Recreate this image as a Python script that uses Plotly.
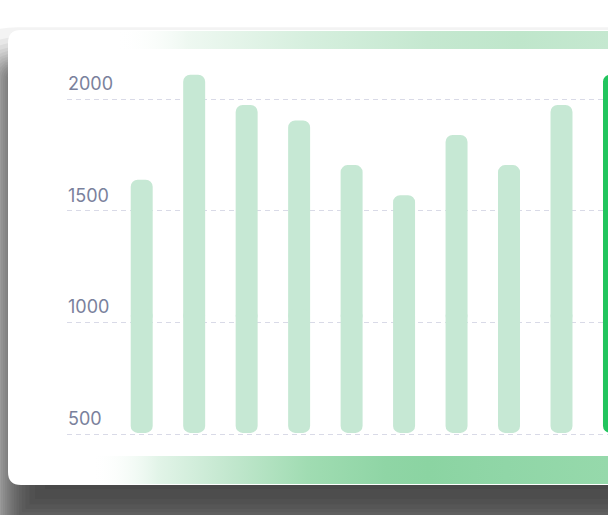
import plotly.graph_objects as go
from statistics import NormalDist

W, H = 608, 515

# data
months = ["Jan", "Feb", "Mar", "Apr", "May", "Jun", "Jul", "Aug", "Sep", "Oct"]
sales = [1640, 2110, 1975, 1905, 1705, 1570, 1840, 1705, 1975, 2110]
highlight = "Oct"
y_ticks = [500, 1000, 1500, 2000]

BAR_FLOOR = 505
SOFT_GREEN = "#c6e8d4"
STRONG_GREEN = "#22c55e"


def px(x):
    return x / W


def py(y):
    return 1 - y / H


def round_rect(x0, y0, x1, y1, r):
    # rounded rectangle in screen pixels -> paper path
    return (
        f"M {px(x0 + r)},{py(y0)} L {px(x1 - r)},{py(y0)} "
        f"Q {px(x1)},{py(y0)} {px(x1)},{py(y0 + r)} "
        f"L {px(x1)},{py(y1 - r)} Q {px(x1)},{py(y1)} {px(x1 - r)},{py(y1)} "
        f"L {px(x0 + r)},{py(y1)} Q {px(x0)},{py(y1)} {px(x0)},{py(y1 - r)} "
        f"L {px(x0)},{py(y0 + r)} Q {px(x0)},{py(y0)} {px(x0 + r)},{py(y0)} Z"
    )


shapes = []

# soft drop shadow built from stacked translucent layers
K = 24
sigma = 20
alpha = 1 - (1 - 0.68) ** (1 / K)
for k in range(K):
    e = sigma * NormalDist().inv_cdf((k + 0.5) / K)
    shapes.append(dict(
        type="path", xref="paper", yref="paper", layer="below",
        path=round_rect(4 - e, 68 - e, 700 + e, 530 + e, max(13 + e, 1)),
        fillcolor=f"rgba(0,0,0,{alpha:.4f})", line=dict(width=0),
    ))

# white card
shapes.append(dict(
    type="path", xref="paper", yref="paper", layer="below",
    path=round_rect(8, 30, 700, 485, 13),
    fillcolor="white", line=dict(width=0),
))

fig = go.Figure()

# gradient bands on the card (decoration axes in screen pixels)
fig.add_trace(go.Scatter(
    x=[8, 608, 608, 8, 8], y=[31, 31, 49, 49, 31],
    xaxis="x", yaxis="y", mode="lines", line=dict(width=0),
    fill="toself", hoverinfo="skip", showlegend=False,
    fillgradient=dict(type="horizontal", colorscale=[
        [0.0, "rgba(255,255,255,0)"],
        [0.18, "rgba(255,255,255,0)"],
        [0.3, "#eef8f1"],
        [0.5, "#d6efde"],
        [0.7, "#c5e8d0"],
        [0.85, "#bfe6cb"],
        [1.0, "#c5e8d0"],
    ]),
))
fig.add_trace(go.Scatter(
    x=[8, 608, 608, 8, 8], y=[456, 456, 484, 484, 456],
    xaxis="x", yaxis="y", mode="lines", line=dict(width=0),
    fill="toself", hoverinfo="skip", showlegend=False,
    fillgradient=dict(type="horizontal", colorscale=[
        [0.0, "rgba(255,255,255,0)"],
        [0.14, "rgba(255,255,255,0)"],
        [0.25, "#e2f4e8"],
        [0.37, "#c2e7ce"],
        [0.5, "#a0dcb2"],
        [0.63, "#8fd5a5"],
        [0.7, "#8bd4a2"],
        [0.83, "#90d6a7"],
        [1.0, "#96d9ab"],
    ]),
))

# bars: two halves so both ends get rounded
idx = list(range(len(months)))
colors = [STRONG_GREEN if m == highlight else SOFT_GREEN for m in months]
mid = 1000
fig.add_trace(go.Bar(
    x=idx, y=[v - mid for v in sales], base=mid,
    xaxis="x2", yaxis="y2", width=0.419,
    marker=dict(color=colors, cornerradius=7, line=dict(width=0)),
    hoverinfo="skip", showlegend=False,
))
fig.add_trace(go.Bar(
    x=idx, y=[BAR_FLOOR - (mid + 60)] * len(idx), base=mid + 60,
    xaxis="x2", yaxis="y2", width=0.419,
    marker=dict(color=colors, cornerradius=7, line=dict(width=0)),
    hoverinfo="skip", showlegend=False,
))

# chart placement in screen pixels
plot_left = 67
step = 52.475
first_center = 141.7
x0 = -(first_center - plot_left) / step
x1 = x0 + (W - plot_left) / step

y_lo, y_hi = 480, 2150
unit = (434.0 - 99.3) / 1500
y_bottom_px = 434.0 + (500 - y_lo) * unit
y_top_px = 99.3 - (y_hi - 2000) * unit

fig.update_layout(
    width=W, height=H,
    margin=dict(l=0, r=0, t=0, b=0),
    paper_bgcolor="white",
    plot_bgcolor="rgba(0,0,0,0)",
    barmode="overlay",
    shapes=shapes,
    font=dict(family="Inter", size=18, color="#7a819c"),
    xaxis=dict(domain=[0, 1], range=[0, W], visible=False, fixedrange=True),
    yaxis=dict(domain=[0, 1], range=[H, 0], visible=False, fixedrange=True),
    xaxis2=dict(
        domain=[px(plot_left), 1], range=[x0, x1], anchor="y2",
        visible=False, fixedrange=True,
    ),
    yaxis2=dict(
        domain=[py(y_bottom_px), py(y_top_px)], range=[y_lo, y_hi], anchor="x2",
        tickvals=y_ticks, ticktext=[str(t) for t in y_ticks],
        ticklabelposition="inside top", ticks="",
        ticklabelshift=-3, ticklabelstandoff=-2,
        showgrid=True, gridcolor="#d9dae7", gridwidth=1, griddash="5px,4px",
        zeroline=False, showline=False, fixedrange=True,
        tickfont=dict(family="Inter", size=18, color="#7a819c"),
    ),
)

# the page's default body margin would push the figure off the window
fig.write_html(
    "out.html",
    config={"displayModeBar": False},
    post_script="document.body.style.margin='0';",
)
